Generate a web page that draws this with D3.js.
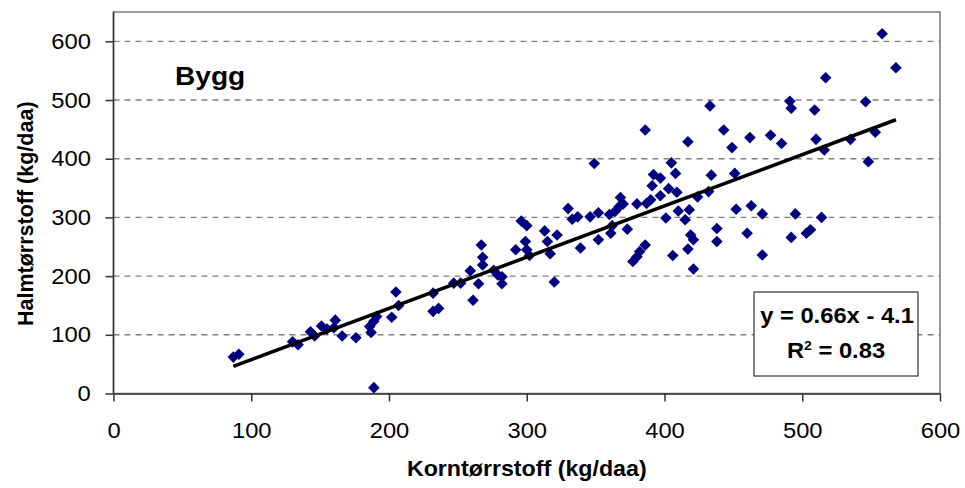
<!DOCTYPE html>
<html>
<head>
<meta charset="utf-8">
<script src="https://cdn.jsdelivr.net/npm/d3@7"></script>
<style>
  html, body { margin: 0; padding: 0; background: #fff; }
  svg { display: block; font-family: "Liberation Sans", Arial, sans-serif; }
</style>
</head>
<body>
<svg id="chart" width="965" height="488"></svg>
<script>
// Grain dry matter (kg/daa) per plot
const korn = [87, 91, 130, 134, 143, 146, 151, 155, 160, 161, 166, 176, 186, 187, 189, 191, 189,
  202, 205, 207, 232, 232, 236, 247, 252, 259, 261, 265, 267, 268, 268, 276, 279, 282, 282,
  292, 296, 300, 299, 300, 302, 313, 315, 317, 320, 322, 330, 333, 337, 339, 346, 352, 349,
  352, 360, 361, 362, 364, 367, 368, 370, 373, 377, 380, 382, 386, 380, 387, 390, 391, 392,
  397, 397, 386, 401, 403, 409, 405, 408, 406, 410, 418, 415, 417, 419, 421, 421, 417, 424,
  432, 433, 434, 438, 438, 443, 449, 451, 452, 460, 462, 463, 471, 471, 477, 485, 491, 492,
  492, 495, 503, 506, 509, 510, 514, 516, 517, 535, 546, 548, 553, 558, 568];
// Straw dry matter (kg/daa) for the same plots
const halm = [62, 67, 88, 83, 105, 98, 115, 110, 112, 125, 98, 95, 114, 104, 123, 131, 10,
  130, 173, 150, 171, 140, 145, 188, 188, 209, 159, 187, 253, 232, 219, 210, 202, 199, 187,
  245, 294, 286, 259, 245, 235, 277, 259, 238, 190, 270, 315, 297, 301, 248, 301, 308, 392,
  262, 305, 273, 286, 310, 318, 334, 323, 280, 225, 233, 242, 253, 323, 324, 330, 354, 373,
  367, 337, 449, 299, 349, 343, 393, 375, 235, 311, 313, 296, 246, 270, 262, 212, 429, 335,
  344, 490, 372, 281, 259, 449, 419, 375, 314, 273, 436, 320, 306, 236, 440, 426, 498, 486,
  266, 306, 273, 279, 483, 433, 300, 415, 538, 433, 497, 395, 445, 613, 555];

const xTicks = [0, 100, 200, 300, 400, 500, 600];
const yTicks = [0, 100, 200, 300, 400, 500, 600];
const chartTitle = "Bygg";
const xTitle = "Korntørrstoff (kg/daa)";
const yTitle = "Halmtørrstoff (kg/daa)";
const eqText = "y = 0.66x - 4.1";
const r2Value = "0.83";

const svg = d3.select("#chart");
const plot = { left: 113.5, right: 940, top: 12, bottom: 393.5 };
const stretch = 1.08; // slightly wide lettering

const x = d3.scaleLinear().domain([0, 600]).range([plot.left, plot.right]);
const y = d3.scaleLinear().domain([0, 650]).range([plot.bottom, plot.top]);

// Horizontal dashed gridlines
svg.append("g")
  .selectAll("line")
  .data(yTicks.filter(d => d > 0))
  .join("line")
  .attr("x1", plot.left).attr("x2", plot.right)
  .attr("y1", d => y(d)).attr("y2", d => y(d))
  .attr("stroke", "#808080")
  .attr("stroke-width", 1.4)
  .attr("stroke-dasharray", "6,5");

// Plot area frame
svg.append("rect")
  .attr("x", plot.left).attr("y", plot.top)
  .attr("width", plot.right - plot.left).attr("height", plot.bottom - plot.top)
  .attr("fill", "none")
  .attr("stroke", "#7a7a7a")
  .attr("stroke-width", 1.5);

// Axes
const xAxis = svg.append("g")
  .attr("transform", `translate(0,${plot.bottom})`)
  .call(d3.axisBottom(x).tickValues(xTicks).tickSize(8).tickPadding(21).tickSizeOuter(0));
const yAxis = svg.append("g")
  .attr("transform", `translate(${plot.left},0)`)
  .call(d3.axisLeft(y).tickValues(yTicks).tickSize(8).tickPadding(13).tickSizeOuter(0));

[xAxis, yAxis].forEach(g => {
  g.select(".domain").attr("stroke", "#333").attr("stroke-width", 1.5);
  g.selectAll(".tick line").attr("stroke", "#333").attr("stroke-width", 1.5);
  g.selectAll(".tick text")
    .attr("fill", "#000")
    .attr("transform", `scale(${stretch},1)`)
    .style("font-size", "22px")
    .style("font-family", "'Liberation Sans', Arial, sans-serif");
});
yAxis.select(".domain").attr("d", `M0,${plot.bottom}V${plot.top}`);

// Data points as diamonds
const r = 5.8;
const diamond = `M0,${-r}L${r},0L0,${r}L${-r},0Z`;
svg.append("g")
  .selectAll("path")
  .data(korn.map((k, i) => [k, halm[i]]))
  .join("path")
  .attr("d", diamond)
  .attr("transform", d => `translate(${x(d[0])},${y(d[1])})`)
  .attr("fill", "#000080");

// Least-squares linear trend line over the data range
const n = korn.length;
const mx = d3.mean(korn), my = d3.mean(halm);
let sxy = 0, sxx = 0;
for (let i = 0; i < n; i++) {
  sxy += (korn[i] - mx) * (halm[i] - my);
  sxx += (korn[i] - mx) ** 2;
}
const slope = sxy / sxx;
const intercept = my - slope * mx;
const [xmin, xmax] = d3.extent(korn);
svg.append("line")
  .attr("x1", x(xmin)).attr("y1", y(slope * xmin + intercept))
  .attr("x2", x(xmax)).attr("y2", y(slope * xmax + intercept))
  .attr("stroke", "#000")
  .attr("stroke-width", 3.6)
  .attr("stroke-linecap", "butt");

// Horizontally stretched text placed at (px, py)
function label(px, py, txt, size, anchor) {
  return svg.append("text")
    .attr("transform", `translate(${px},${py}) scale(${stretch},1)`)
    .attr("text-anchor", anchor)
    .attr("font-size", size).attr("font-weight", "bold")
    .text(txt);
}

// Chart label
label(175, 85, chartTitle, 26, "start");

// Regression equation box
const box = { x: 754, y: 292, w: 164, h: 84 };
svg.append("rect")
  .attr("x", box.x).attr("y", box.y).attr("width", box.w).attr("height", box.h)
  .attr("fill", "#fff").attr("stroke", "#333").attr("stroke-width", 1.2);
label(box.x + box.w / 2 + 1, 323, eqText, 22, "middle");
const r2 = label(box.x + box.w / 2, 358, "", 22, "middle");
r2.append("tspan").text("R");
r2.append("tspan").attr("dy", -8).attr("font-size", 13).text("2");
r2.append("tspan").attr("dy", 8).text(" = " + r2Value);

// Axis titles
label((plot.left + plot.right) / 2, 476, xTitle, 21.5, "middle");
svg.append("text")
  .attr("transform", `translate(33,${(plot.top + plot.bottom) / 2 + 11}) rotate(-90)`)
  .attr("text-anchor", "middle")
  .attr("font-size", 21.5).attr("font-weight", "bold")
  .text(yTitle);
</script>
</body>
</html>
